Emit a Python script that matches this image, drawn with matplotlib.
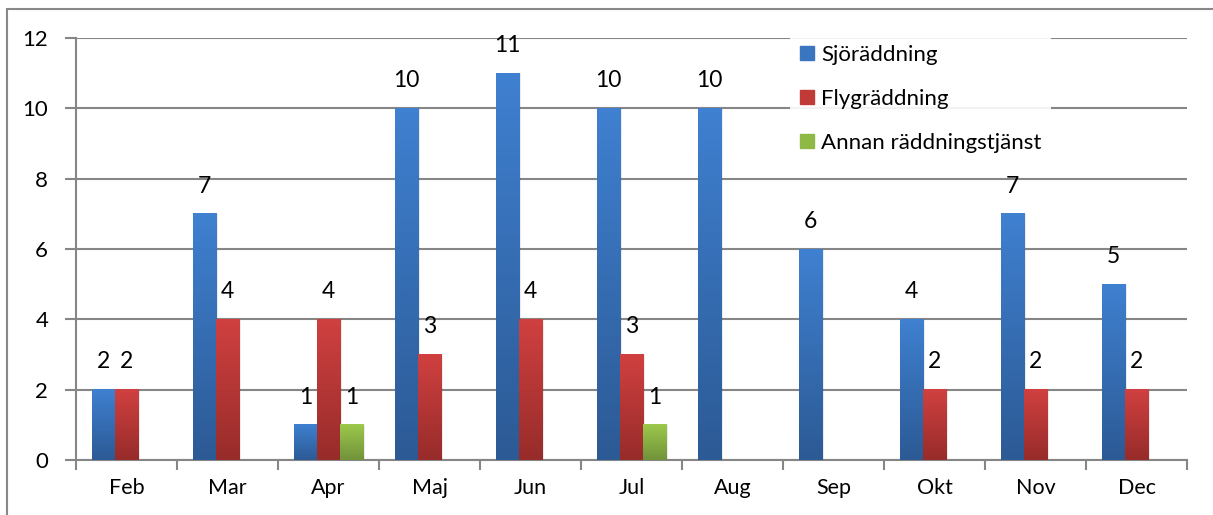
import numpy as np
import matplotlib
matplotlib.use("Agg")
import matplotlib.pyplot as plt
from matplotlib.lines import Line2D
from matplotlib.patches import Rectangle
from matplotlib.colors import LinearSegmentedColormap

months = ["Feb", "Mar", "Apr", "Maj", "Jun", "Jul", "Aug", "Sep", "Okt", "Nov", "Dec"]
sjo = [2, 7, 1, 10, 11, 10, 10, 6, 4, 7, 5]
fly = [2, 4, 4, 3, 4, 3, 0, 0, 2, 2, 2]
annan = [0, 0, 1, 0, 0, 1, 0, 0, 0, 0, 0]
series_names = ["Sjöräddning", "Flygräddning", "Annan räddningstjänst"]
y_ticks = [0, 2, 4, 6, 8, 10, 12]

top_cols = ["#3f80d0", "#d04040", "#9cc84c"]
bot_cols = ["#2c5a95", "#972c2a", "#72933a"]
legend_cols = ["#3a75bf", "#c03a38", "#8db944"]

plt.rcParams['font.family'] = ['Lato', 'DejaVu Sans']

W, H = 1213, 515
fig = plt.figure(figsize=(W / 100, H / 100), dpi=100)
ax = fig.add_axes([76 / W, (H - 460) / H, (1187 - 76) / W, (460 - 38) / H])

x = np.arange(len(months))
bw = 0.228
data = [sjo, fly, annan]
grad = np.linspace(0, 1, 64).reshape(-1, 1)
for i, (vals, tc, bc) in enumerate(zip(data, top_cols, bot_cols)):
    bars = ax.bar(x + (i - 1) * bw, vals, width=bw, color=tc, zorder=3, linewidth=0)
    cmap = LinearSegmentedColormap.from_list("g%d" % i, [bc, tc])
    for b, v in zip(bars, vals):
        if v <= 0:
            continue
        x0 = b.get_x()
        x1 = x0 + b.get_width()
        ax.add_patch(Rectangle((x1, 0), 0.02, v, color="#000000", alpha=0.08, zorder=2.5, linewidth=0))
        ax.imshow(grad, extent=(x0, x1, 0, v), origin="lower", aspect="auto",
                  cmap=cmap, zorder=3.5, interpolation="bilinear")
        ax.annotate(str(v), (b.get_x() + b.get_width() / 2, v), xytext=(0, 20),
                    textcoords="offset points", ha="center", va="center",
                    fontsize=16.5, color="#000000", zorder=5)

ax.set_xlim(-0.5, len(months) - 0.5)
ax.set_ylim(0, 12)
ax.set_yticks(y_ticks)
ax.set_xticks(x)
ax.set_xticklabels(months, fontsize=15.5)
ax.set_xticks(np.arange(-0.5, len(months), 1.0), minor=True)
ax.tick_params(axis="x", which="major", length=0, pad=13)
ax.tick_params(axis="x", which="minor", length=7, width=1.5, color="#868686")
ax.tick_params(axis="y", length=8, width=1.5, color="#868686", labelsize=16, pad=12)
ax.yaxis.grid(True, color="#868686", linewidth=1.5, zorder=0)
ax.set_axisbelow(True)
for s in ["top", "right"]:
    ax.spines[s].set_visible(False)
for s in ["left", "bottom"]:
    ax.spines[s].set_color("#868686")
    ax.spines[s].set_linewidth(1.5)

handles = [Line2D([], [], marker="s", linestyle="none", markersize=10.5,
                  markerfacecolor=c, markeredgecolor=c) for c in legend_cols]
leg = ax.legend(handles, series_names, loc="upper left", bbox_to_anchor=(0.643, 1.005),
                fontsize=16, frameon=True, fancybox=False, framealpha=0.9,
                edgecolor="none", labelspacing=1.08, handlelength=0.7,
                handletextpad=0.3, borderpad=0.4, borderaxespad=0)
leg.set_zorder(10)

fig.patches.append(Rectangle((7 / W, -0.1), 1.1, (H - 9) / H + 0.1, transform=fig.transFigure,
                             fill=False, edgecolor="#888888", linewidth=1.5))

fig.savefig("out.png", dpi=100)
